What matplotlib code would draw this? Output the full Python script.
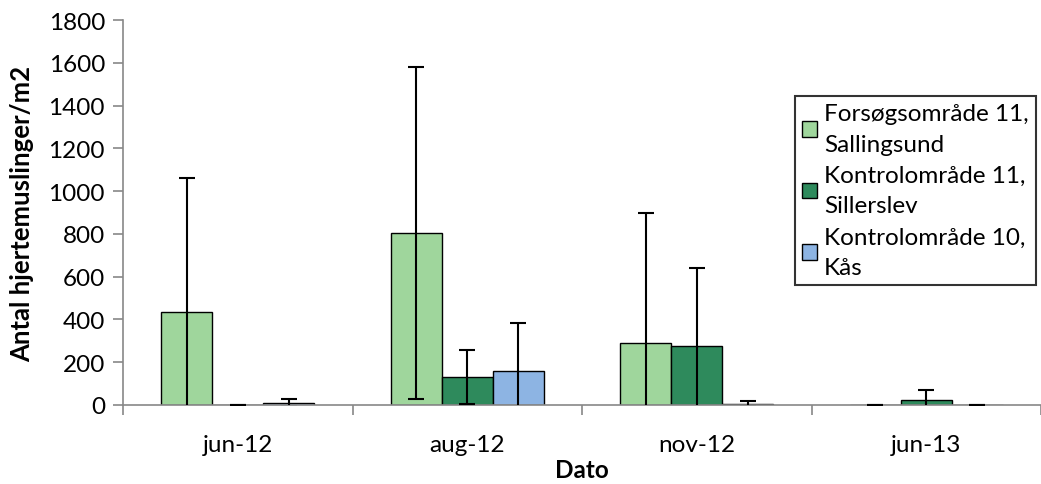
import matplotlib
matplotlib.use("Agg")
import matplotlib.pyplot as plt
import numpy as np
from matplotlib.patches import Patch

categories = ["jun-12", "aug-12", "nov-12", "jun-13"]
series_names = ["Forsøgsområde 11,\nSallingsund",
                "Kontrolområde 11,\nSillerslev",
                "Kontrolområde 10,\nKås"]
fors_vals = [435, 805, 290, 0]
fors_err = [625, 775, 608, 0]
sill_vals = [0, 130, 275, 25]
sill_err = [0, 125, 367, 45]
kas_vals = [10, 160, 5, 0]
kas_err = [20, 225, 15, 0]
yticks = [0, 200, 400, 600, 800, 1000, 1200, 1400, 1600, 1800]

colors = ["#9fd69c", "#2e8a5c", "#8db4e3"]

plt.rcParams['font.family'] = ['Lato', 'DejaVu Sans']

W, H = 1041, 485
fig = plt.figure(figsize=(W / 100, H / 100), dpi=100)
ax = fig.add_axes([123 / W, 79 / H, (W - 123) / W, (406 - 21) / H])

FS = 17.5
x = np.arange(len(categories))
bw = 1 / 4.5
vals = [fors_vals, sill_vals, kas_vals]
errs = [fors_err, sill_err, kas_err]
for i in range(3):
    pos = x + (i - 1) * bw
    ax.bar(pos, vals[i], width=bw, color=colors[i], edgecolor="black",
           linewidth=1.0, zorder=2)
    ax.errorbar(pos, vals[i], yerr=errs[i], fmt="none", ecolor="black",
                elinewidth=1.5, capsize=6, capthick=1.5, zorder=3)

ax.set_ylim(0, 1800)
ax.set_yticks(yticks)
ax.set_xlim(-0.49, (W - 237) / 232)
ax.set_xticks(x)
ax.set_xticklabels(categories)
ax.set_xticks(np.arange(-0.5, 4, 1), minor=True)
ax.tick_params(axis="x", which="major", length=0, labelsize=FS, pad=21)
ax.tick_params(axis="x", which="minor", length=7, color="#888888", width=1.2)
ax.tick_params(axis="y", length=7, color="#888888", width=1.2, labelsize=FS, pad=6)

for s in ["top", "right"]:
    ax.spines[s].set_visible(False)
for s in ["left", "bottom"]:
    ax.spines[s].set_color("#888888")
    ax.spines[s].set_linewidth(1.2)

ax.set_ylabel("Antal hjertemuslinger/m2", fontsize=18.5, fontweight="bold", labelpad=10)
ax.set_xlabel("Dato", fontsize=FS, fontweight="bold", labelpad=2)

handles = [Patch(facecolor=c, edgecolor="black", linewidth=1.0) for c in colors]
leg = fig.legend(handles, series_names, loc="upper right",
                 bbox_to_anchor=(1036 / W, (H - 97) / H),
                 fontsize=FS, frameon=True, fancybox=False,
                 handlelength=0.6, handleheight=0.6, handletextpad=0.3,
                 borderpad=0.3, labelspacing=0.42, borderaxespad=0)
leg.get_frame().set_edgecolor("black")
leg.get_frame().set_linewidth(1.5)
for t in leg.get_texts():
    t.set_linespacing(1.55)

fig.savefig("out.png", dpi=100)
